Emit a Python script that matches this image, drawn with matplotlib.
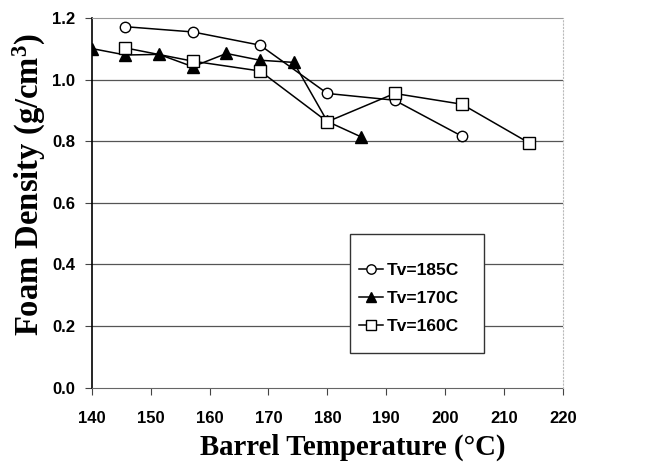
import matplotlib.pyplot as plt
import matplotlib.patches as mpatches
import numpy as np

# barrel temperatures, evenly spaced categories in the original chart
temps = [140, 145, 150, 155, 160, 165, 170, 175, 180, 185, 190, 195, 200, 205]

t185 = [145, 155, 165, 175, 185, 195]
d185 = [1.173, 1.156, 1.113, 0.956, 0.934, 0.817]

t170 = [140, 145, 150, 155, 160, 165, 170, 175, 180]
d170 = [1.102, 1.081, 1.083, 1.043, 1.086, 1.064, 1.057, 0.865, 0.815]

t160 = [145, 155, 165, 175, 185, 195, 205]
d160 = [1.104, 1.061, 1.029, 0.864, 0.956, 0.921, 0.795]

xtick_labels = [140, 150, 160, 170, 180, 190, 200, 210, 220]
ytick_vals = [0.0, 0.2, 0.4, 0.6, 0.8, 1.0, 1.2]


def pos(ts):
    return [temps.index(t) for t in ts]


sans = 'Liberation Sans'
serif = 'Liberation Serif'
plt.rcParams['mathtext.fontset'] = 'custom'
plt.rcParams['mathtext.rm'] = 'Liberation Serif:bold'
plt.rcParams['mathtext.it'] = 'Liberation Serif:bold'
plt.rcParams['mathtext.bf'] = 'Liberation Serif:bold'

fig = plt.figure(figsize=(6.56, 4.72), dpi=100)
ax = fig.add_axes([0.140, 0.179, 0.718, 0.782])

for yv in ytick_vals[1:-1]:
    ax.axhline(yv, color='#555555', lw=0.9, zorder=0)

ax.plot(pos(t185), d185, color='black', lw=1.1, marker='o', ms=7.5,
        mfc='white', mec='black', mew=1.0, label='Tv=185C', zorder=3)
ax.plot(pos(t170), d170, color='black', lw=1.1, marker='^', ms=8.5,
        mfc='black', mec='black', label='Tv=170C', zorder=2)
ax.plot(pos(t160), d160, color='black', lw=1.1, marker='s', ms=8,
        mfc='white', mec='black', mew=1.0, label='Tv=160C', zorder=4)

ax.set_xlim(0, 14)
ax.set_ylim(0, 1.2)
ax.set_xticks(np.linspace(0, 14, len(xtick_labels)))
ax.set_xticklabels([str(v) for v in xtick_labels])
ax.set_yticks(ytick_vals)
ax.set_yticklabels([f'{v:.1f}' for v in ytick_vals])

for lab in ax.get_xticklabels() + ax.get_yticklabels():
    lab.set_fontfamily(sans)
    lab.set_fontweight('bold')
    lab.set_fontsize(12)

ax.tick_params(axis='both', direction='out', length=5, width=0.8, color='#444444')
ax.tick_params(axis='x', pad=12)
ax.tick_params(axis='y', pad=7)

ax.spines['left'].set_color('black')
ax.spines['left'].set_linewidth(1.2)
ax.spines['bottom'].set_color('#666666')
ax.spines['bottom'].set_linestyle((0, (1, 1)))
ax.spines['top'].set_color('#999999')
ax.spines['top'].set_linestyle((0, (1, 1)))
ax.spines['right'].set_color('#bbbbbb')
ax.spines['right'].set_linestyle((0, (1, 2)))

ax.set_xlabel('Barrel Temperature (°C)', fontfamily=serif, fontweight='bold',
              fontsize=20.8)
ax.xaxis.set_label_coords(0.554, -0.124)
ax.set_ylabel('Foam Density (g/cm$^3$)', fontfamily=serif, fontweight='bold',
              fontsize=23.5)
ax.yaxis.set_label_coords(-0.094, 0.551)

# legend box drawn separately, entries placed inside it
box = mpatches.Rectangle((0.549, 0.093), 0.283, 0.322, transform=ax.transAxes,
                         facecolor='white', edgecolor='#333333', lw=1.0, zorder=5)
ax.add_patch(box)
leg = ax.legend(loc='center left', bbox_to_anchor=(0.567, 0.242),
                frameon=False, handlelength=1.38, handletextpad=0.23,
                labelspacing=0.73, borderpad=0, borderaxespad=0,
                markerscale=0.9,
                prop={'family': sans, 'weight': 'bold', 'size': 12.5})
leg.set_zorder(6)

fig.savefig('out.png', dpi=100)
